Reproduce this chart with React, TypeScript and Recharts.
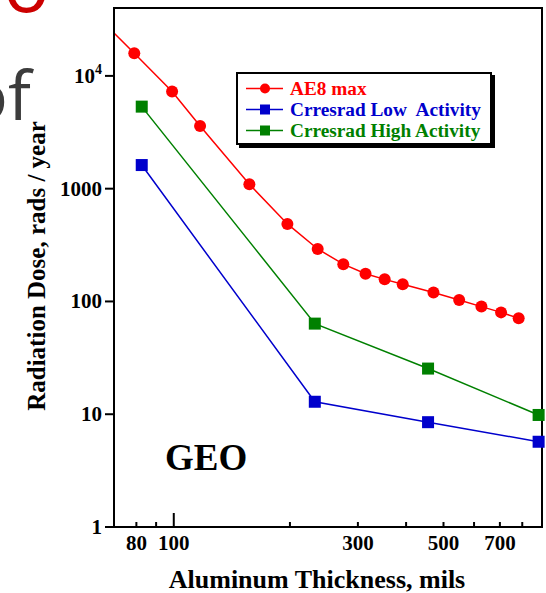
import React from "react";
import { LineChart, Line, XAxis, YAxis, Legend } from "recharts";

// AE8 max, thickness (mils) vs dose (rads/year); first point is where the line leaves the frame
const ae8Thickness = [70, 79, 99, 117, 157, 197, 236, 275, 314, 352, 392, 471, 549, 627, 705, 783];
const ae8Dose = [24000, 15900, 7260, 3600, 1095, 487, 292, 214, 176, 157, 142, 120, 103, 90, 80, 71];

// CRRESRAD
const crresThickness = [82.6, 232, 456, 882];
const crresLowDose = [1620, 12.9, 8.5, 5.7];
const crresHighDose = [5340, 63.6, 25.4, 9.85];

const xTicks = [80, 90, 100, 200, 300, 400, 500, 600, 700, 800];
const xTickLabels = [80, 100, 300, 500, 700];
const yTicks = [1, 10, 100, 1000, 10000];

const seriesNames = ["AE8 max", "Crresrad Low  Activity", "Crresrad High Activity"];
const xTitle = "Aluminum Thickness, mils";
const yTitle = "Radiation Dose, rads / year";
const orbitLabel = "GEO";

const RED = "#ff0000";
const BLUE = "#0000cc";
const GREEN = "#008000";
const FONT = '"Liberation Serif", "Times New Roman", serif';

const ae8Data = ae8Thickness.map((x, i) => ({ x, y: ae8Dose[i] }));
const lowData = crresThickness.map((x, i) => ({ x, y: crresLowDose[i] }));
const highData = crresThickness.map((x, i) => ({ x, y: crresHighDose[i] }));

const tickText = { fontFamily: FONT, fontWeight: "bold" as const, fontSize: 21, fill: "#000" };

function BottomTick(props: any) {
  const { x, y, payload } = props;
  const v = payload.value;
  const len = v === 100 ? 14 : 5;
  return (
    <g>
      <line x1={x} x2={x} y1={y} y2={y - len} stroke="#000" strokeWidth={2} />
      {xTickLabels.includes(v) && (
        <text x={x} y={y + 23} textAnchor="middle" {...tickText}>
          {v}
        </text>
      )}
    </g>
  );
}

function TopTick(props: any) {
  const { x, y, payload } = props;
  const len = payload.value === 100 ? 12 : 5;
  return <line x1={x} x2={x} y1={y} y2={y + len} stroke="#000" strokeWidth={2} />;
}

function LeftTick(props: any) {
  const { x, y, payload } = props;
  const v = payload.value;
  return (
    <g>
      <line x1={x} x2={x - 9} y1={y} y2={y} stroke="#000" strokeWidth={2} />
      <text x={x - 12} y={y + 7} textAnchor="end" {...tickText}>
        {v === 10000 ? (
          <>
            10<tspan dy={-9} fontSize={14}>4</tspan>
          </>
        ) : (
          v
        )}
      </text>
    </g>
  );
}

function RightTick(props: any) {
  const { x, y } = props;
  return <line x1={x} x2={x + 5} y1={y} y2={y} stroke="#000" strokeWidth={2} />;
}

function CircleDot(props: any) {
  const { cx, cy, index } = props;
  if (index === 0) return <g key={`d${index}`} />;
  return <circle key={`d${index}`} cx={cx} cy={cy} r={6} fill={RED} stroke="none" />;
}

function squareDot(color: string) {
  return (props: any) => {
    const { cx, cy, index } = props;
    return <rect key={`s${index}`} x={cx - 6} y={cy - 6} width={12} height={12} fill={color} />;
  };
}

function LegendBox() {
  const colors = [RED, BLUE, GREEN];
  return (
    <div
      style={{
        boxSizing: "border-box",
        width: 256,
        height: 73,
        border: "2px solid #000",
        boxShadow: "3px 3px 0 #000",
        background: "#fff",
        paddingTop: 4,
      }}
    >
      {seriesNames.map((name, i) => (
        <div key={name} style={{ display: "flex", alignItems: "center", height: 21 }}>
          <svg width={50} height={21} style={{ flex: "none" }}>
            <line x1={8} x2={45} y1={10.5} y2={10.5} stroke={colors[i]} strokeWidth={1.5} />
            {i === 0 ? (
              <circle cx={27} cy={10.5} r={5} fill={colors[i]} />
            ) : (
              <rect x={22} y={5.5} width={10} height={10} fill={colors[i]} />
            )}
          </svg>
          <span
            style={{
              marginLeft: 2,
              color: colors[i],
              fontFamily: FONT,
              fontWeight: "bold",
              fontSize: 19.3,
              whiteSpace: "pre",
              lineHeight: "21px",
            }}
          >
            {name}
          </span>
        </div>
      ))}
    </div>
  );
}

export default function App() {
  const axisLine = { stroke: "#000", strokeWidth: 2, strokeLinecap: "square" as const };
  return (
    <div style={{ position: "absolute", left: 0, top: 0, width: 546, height: 593, background: "#fff" }}>
      <LineChart width={546} height={593} margin={{ top: 0, right: 0, bottom: 0, left: 0 }}>
        <XAxis
          dataKey="x"
          type="number"
          scale="log"
          domain={[70, 900]}
          ticks={xTicks}
          interval={0}
          height={66}
          tickSize={0}
          tickMargin={0}
          tickLine={false}
          axisLine={axisLine}
          tick={<BottomTick />}
        />
        <XAxis
          xAxisId="top"
          orientation="top"
          dataKey="x"
          type="number"
          scale="log"
          domain={[70, 900]}
          ticks={xTicks}
          interval={0}
          height={8}
          tickSize={0}
          tickMargin={0}
          tickLine={false}
          axisLine={axisLine}
          tick={<TopTick />}
        />
        <YAxis
          type="number"
          scale="log"
          domain={[1, 40000]}
          ticks={yTicks}
          interval={0}
          width={114}
          tickSize={0}
          tickMargin={0}
          tickLine={false}
          axisLine={axisLine}
          tick={<LeftTick />}
        />
        <YAxis
          yAxisId="right"
          orientation="right"
          type="number"
          scale="log"
          domain={[1, 40000]}
          ticks={yTicks}
          interval={0}
          width={4}
          tickSize={0}
          tickMargin={0}
          tickLine={false}
          axisLine={axisLine}
          tick={<RightTick />}
        />
        <Line
          data={ae8Data}
          dataKey="y"
          name={seriesNames[0]}
          stroke={RED}
          strokeWidth={1.5}
          dot={CircleDot}
          activeDot={false}
          isAnimationActive={false}
        />
        <Line
          data={lowData}
          dataKey="y"
          name={seriesNames[1]}
          stroke={BLUE}
          strokeWidth={1.5}
          dot={squareDot(BLUE)}
          activeDot={false}
          isAnimationActive={false}
        />
        <Line
          data={highData}
          dataKey="y"
          name={seriesNames[2]}
          stroke={GREEN}
          strokeWidth={1.5}
          dot={squareDot(GREEN)}
          activeDot={false}
          isAnimationActive={false}
        />
        <Legend
          layout="vertical"
          align="center"
          verticalAlign="middle"
          content={<LegendBox />}
          wrapperStyle={{ position: "absolute", left: 236, top: 72, width: 256, height: 73 }}
        />
        <text x={165} y={470} fontFamily={FONT} fontWeight="bold" fontSize={37} fill="#000">
          {orbitLabel}
        </text>
        <text x={317} y={588} textAnchor="middle" fontFamily={FONT} fontWeight="bold" fontSize={26} fill="#000">
          {xTitle}
        </text>
        <text
          transform="translate(45,266) rotate(-90)"
          textAnchor="middle"
          fontFamily={FONT}
          fontWeight="bold"
          fontSize={25}
          fill="#000"
        >
          {yTitle}
        </text>
        {/* leftover pieces of the slide title behind the chart */}
        <text x={3} y={12} fontFamily='"Open Sans", sans-serif' fontSize={78} fill="#cc0000">
          o
        </text>
        <text x={-33} y={120} fontFamily='"Open Sans", sans-serif' fontSize={68} fill="#3c3c3c">
          of
        </text>
      </LineChart>
    </div>
  );
}
